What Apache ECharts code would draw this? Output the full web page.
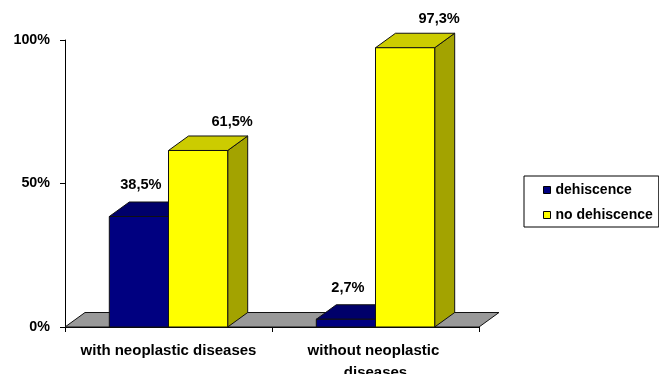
<!DOCTYPE html>
<html>
<head>
<meta charset="utf-8">
<script src="https://cdn.jsdelivr.net/npm/echarts@6/dist/echarts.min.js"></script>
<style>
  html, body { margin: 0; padding: 0; background: #fff; }
  #chart { width: 659px; height: 374px; }
</style>
</head>
<body>
<div id="chart"></div>
<script>
// Chart data
const categories = ['with neoplastic diseases', 'without neoplastic diseases'];
const seriesNames = ['dehiscence', 'no dehiscence'];
const dehiscence = [38.5, 2.7];
const noDehiscence = [61.5, 97.3];
const yMin = 0, yMax = 100, yStep = 50;

// 3D look: depth offset of bar tops / sides and the floor
const DX = 20, DY = 14.5;
const FONT = 'Arial, "Liberation Sans", sans-serif';

const palette = [
  { front: '#000080', top: '#00006a', side: '#000058' },
  { front: '#ffff00', top: '#cccc00', side: '#a3a300' }
];

function fmt(v) {
  return String(v).replace('.', ',') + '%';
}

// Draws one bar of a group as a box: front face, top face and right side face
function barRenderer(slot, colors, labelDx, labelRise) {
  return function (params, api) {
    const cat = api.value(0);
    const val = api.value(1);
    const base = api.coord([cat, 0]);
    const top = api.coord([cat, val]);
    const band = api.size([1, 0])[0];
    const w = band * 0.286;
    const x0 = slot === 0 ? base[0] - w : base[0];
    const x1 = x0 + w;
    const y0 = base[1];
    const y1 = top[1];
    const edge = { stroke: '#111', lineWidth: 1 };
    return {
      type: 'group',
      children: [
        {
          type: 'polygon',
          shape: { points: [[x1, y0], [x1, y1], [x1 + DX, y1 - DY], [x1 + DX, y0 - DY]] },
          style: Object.assign({ fill: colors.side }, edge)
        },
        {
          type: 'polygon',
          shape: { points: [[x0, y1], [x1, y1], [x1 + DX, y1 - DY], [x0 + DX, y1 - DY]] },
          style: Object.assign({ fill: colors.top }, edge)
        },
        {
          type: 'rect',
          shape: { x: x0, y: y1, width: w, height: y0 - y1 },
          style: Object.assign({ fill: colors.front }, edge)
        },
        {
          type: 'text',
          style: {
            x: (x0 + x1) / 2 + labelDx,
            y: y1 - DY - labelRise,
            text: fmt(val),
            fill: '#000',
            font: 'bold 14.6px ' + FONT,
            textAlign: 'center',
            textVerticalAlign: 'middle'
          }
        }
      ]
    };
  };
}

// Grey floor under the bars, spanning the whole category axis
function floorRenderer(params, api) {
  const cs = params.coordSys;
  const y = api.coord([0, 0])[1];
  const xl = cs.x, xr = cs.x + cs.width;
  return {
    type: 'polygon',
    shape: { points: [[xl, y], [xr, y], [xr + DX, y - DY], [xl + DX, y - DY]] },
    style: { fill: '#999999', stroke: '#111', lineWidth: 1 }
  };
}

const chart = echarts.init(document.getElementById('chart'), null, { renderer: 'canvas' });

chart.setOption({
  backgroundColor: '#ffffff',
  animation: false,
  grid: { left: 65, right: 180, top: 40, bottom: 47, containLabel: false, outerBoundsMode: 'none' },
  legend: {
    orient: 'vertical',
    left: 524,
    top: 176,
    data: seriesNames,
    icon: 'rect',
    itemWidth: 7,
    itemHeight: 7,
    itemGap: 11,
    padding: [7, 6, 5, 19],
    borderColor: '#000',
    borderWidth: 1,
    borderRadius: 0,
    itemStyle: { borderColor: '#000', borderWidth: 1 },
    textStyle: { fontFamily: FONT, fontWeight: 'bold', fontSize: 14, color: '#000', lineHeight: 14 }
  },
  xAxis: {
    type: 'category',
    data: categories,
    boundaryGap: true,
    axisLine: { lineStyle: { color: '#000', width: 1 } },
    axisTick: { show: true, inside: false, length: 5, lineStyle: { color: '#000' } },
    axisLabel: {
      color: '#000',
      fontFamily: FONT,
      fontWeight: 'bold',
      fontSize: 15,
      lineHeight: 22,
      margin: 13,
      width: 188,
      overflow: 'break',
      interval: 0
    },
    splitLine: { show: false }
  },
  yAxis: {
    type: 'value',
    min: yMin,
    max: yMax,
    interval: yStep,
    axisLine: { show: true, lineStyle: { color: '#000', width: 1 } },
    axisTick: { show: true, inside: false, length: 5, lineStyle: { color: '#000' } },
    axisLabel: {
      color: '#000',
      fontFamily: FONT,
      fontWeight: 'bold',
      fontSize: 14.3,
      margin: 15,
      formatter: '{value}%'
    },
    splitLine: { show: false }
  },
  series: [
    {
      type: 'custom',
      name: 'floor',
      z: 1,
      silent: true,
      renderItem: floorRenderer,
      data: [[0, 0]]
    },
    {
      type: 'custom',
      name: seriesNames[0],
      z: 2,
      itemStyle: { color: palette[0].front },
      renderItem: barRenderer(0, palette[0], 2, 17),
      encode: { x: 0, y: 1 },
      data: dehiscence.map((v, i) => [i, v])
    },
    {
      type: 'custom',
      name: seriesNames[1],
      z: 3,
      itemStyle: { color: palette[1].front },
      renderItem: barRenderer(1, palette[1], 34, 14),
      encode: { x: 0, y: 1 },
      data: noDehiscence.map((v, i) => [i, v])
    }
  ]
});
</script>
</body>
</html>
